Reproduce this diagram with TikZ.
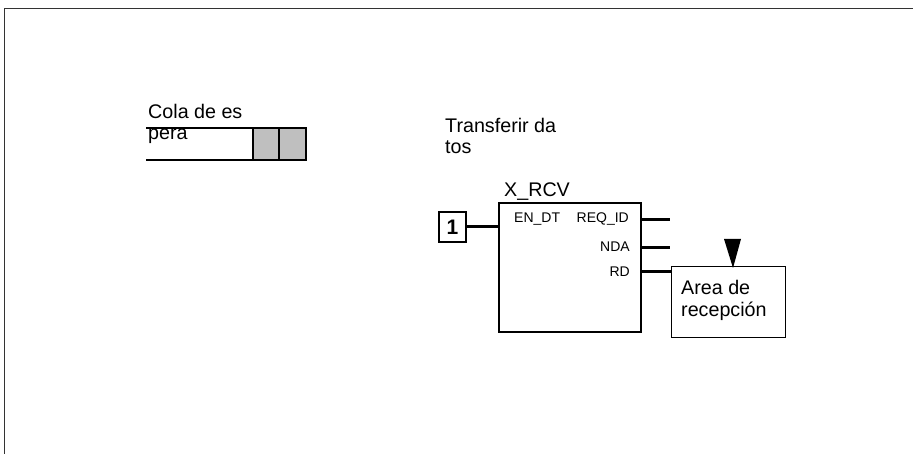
\documentclass[tikz,border=0pt]{standalone}
\usepackage{fontspec}
\setmainfont{Liberation Sans}
\begin{document}
\begin{tikzpicture}[x=1pt,y=-1pt,
  lbl/.style={anchor=base west,inner sep=0pt,font=\fontsize{19.7}{21}\selectfont},
  sml/.style={inner sep=0pt,font=\fontsize{14}{16}\selectfont},
  blockbox/.style={draw,line width=2pt,inner sep=0pt,outer sep=0pt},
  thinbox/.style={draw,line width=1pt,inner sep=0pt,outer sep=0pt},
  pin/.style={line width=3pt},
  cell/.style={draw,line width=1.6pt,fill=gray!50,inner sep=0pt,outer sep=0pt,minimum width=26.5,minimum height=32}]
\useasboundingbox (0,0) rectangle (913,454);
% frame
\draw[line width=1pt,black!80] (913,9) -- (4,9) -- (4,454);
% queue
\node[cell] (c1) at (266,144) {};
\node[cell] (c2) at (292.5,144) {};
\coordinate (qtl) at (146,128);
\coordinate (qbl) at (146,160);
\draw[line width=2pt] (qtl) -- (c1.north west);
\draw[line width=2pt] (qbl) -- (c1.south west);
\node[lbl] (q1) at (148,118.5) {Cola de es};
\node[lbl] (q2) at (148,140) {pera};
% title
\node[lbl] (t1) at (445,133) {Transferir da};
\node[lbl] (t2) at (445,154) {tos};
% block
\node[blockbox,minimum width=142,minimum height=129] (blk) at (570,267.5) {};
\node[lbl] (bn) at (504,197) {X\_RCV};
\node[sml,anchor=base west] (en) at (514,223) {EN\_DT};
\node[sml,anchor=base east] (rq) at (629,223) {REQ\_ID};
\node[sml,anchor=base east] (nda) at (630,252) {NDA};
\node[sml,anchor=base east] (rd) at (630,277) {RD};
% input
\node[blockbox,minimum width=27,minimum height=30,font=\bfseries\fontsize{21}{23}\selectfont] (one) at (452.5,227) {1};
\draw[pin] (one.east) -- (blk.west |- one.east);
% outputs
\coordinate (o1) at (670,220);
\coordinate (o2) at (670,248);
\draw[pin] (blk.east |- o1) -- (o1);
\draw[pin] (blk.east |- o2) -- (o2);
% area
\node[thinbox,minimum width=114,minimum height=71] (area) at (728,302.5) {};
\coordinate (rdy) at (0,272);
\draw[pin] (blk.east |- rdy) -- (area.west |- rdy);
\node[lbl] (a1) at (681,295) {Area de};
\node[lbl] (a2) at (681,317) {recepción};
% triangle marker
\coordinate (tl) at (724,239);
\coordinate (tr) at (741,239);
\coordinate (tip) at (733,268);
\fill (tl) -- (tr) -- (tip) -- cycle;
\end{tikzpicture}
\end{document}
